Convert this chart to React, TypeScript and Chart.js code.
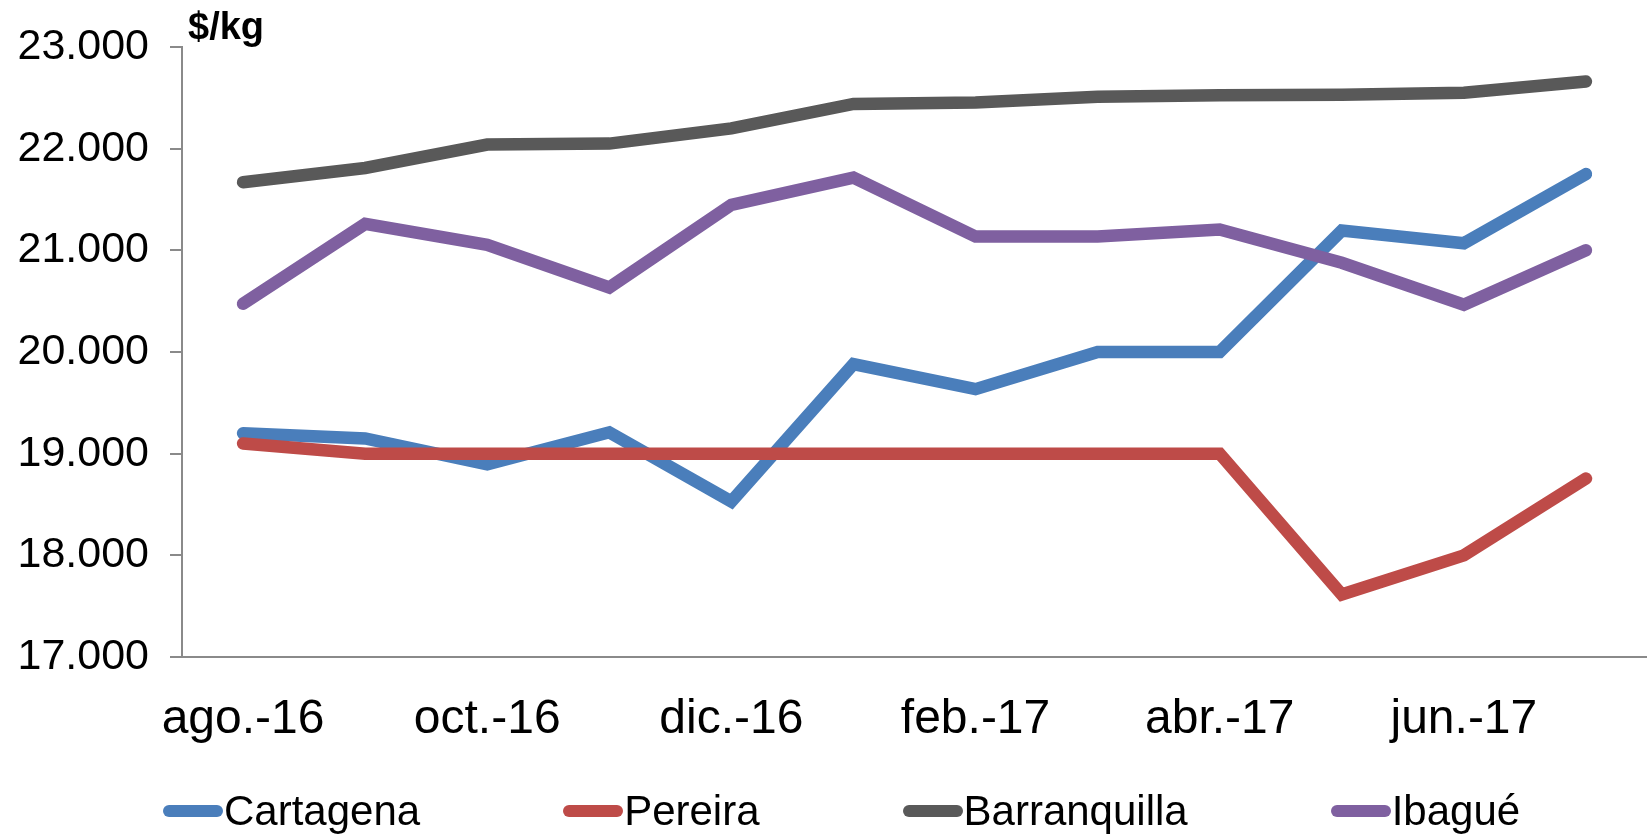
import React, { useEffect, useRef } from "react";
import { Chart, registerables } from "chart.js";

Chart.register(...registerables);

const categories = [
  "ago.-16", "sep.-16", "oct.-16", "nov.-16", "dic.-16", "ene.-17",
  "feb.-17", "mar.-17", "abr.-17", "may.-17", "jun.-17", "jul.-17",
];
const cartagena = [19200, 19150, 18895, 19210, 18530, 19880, 19635, 20000, 20000, 21195, 21070, 21750];
const pereira = [19100, 19000, 19000, 19000, 19000, 19000, 19000, 19000, 19000, 17615, 18000, 18755];
const barranquilla = [21670, 21810, 22040, 22050, 22200, 22440, 22455, 22510, 22525, 22530, 22550, 22660];
const ibague = [20475, 21260, 21055, 20635, 21448, 21715, 21135, 21135, 21205, 20878, 20465, 21000];

const seriesNames = ["Cartagena", "Pereira", "Barranquilla", "Ibagué"];
const seriesColors = ["#4A7EBB", "#BE4B48", "#595959", "#7F60A0"];
const yMin = 17000;
const yMax = 23000;
const yStep = 1000;
const unitLabel = "$/kg";

const FONT = '"Liberation Sans", Arial, sans-serif';

function fmt(v: number): string {
  const s = Math.round(v).toString();
  return s.replace(/\B(?=(\d{3})+(?!\d))/g, ".");
}

export default function App() {
  const ref = useRef<HTMLCanvasElement | null>(null);

  useEffect(() => {
    const canvas = ref.current;
    if (!canvas) return;
    const values = [cartagena, pereira, barranquilla, ibague];
    const unitPlugin = {
      id: "unitLabel",
      afterDraw(chart: any) {
        const ctx = chart.ctx;
        ctx.save();
        ctx.font = `bold 38px ${FONT}`;
        ctx.fillStyle = "#000";
        ctx.textBaseline = "alphabetic";
        ctx.textAlign = "left";
        ctx.fillText(unitLabel, chart.chartArea.left + 6, 39);
        ctx.restore();
      },
    };
    const chart = new Chart(canvas, {
      type: "line",
      data: {
        labels: categories,
        datasets: values.map((d, i) => ({
          label: seriesNames[i],
          data: d,
          borderColor: seriesColors[i],
          backgroundColor: seriesColors[i],
          borderWidth: 12.5,
          borderCapStyle: "round",
          borderJoinStyle: "miter",
          pointRadius: 0,
          tension: 0,
          fill: false,
          order: 4 - i,
        })),
      },
      options: {
        responsive: false,
        animation: false,
        devicePixelRatio: 1,
        layout: { padding: { top: 47, right: 0, bottom: 0, left: 0 } },
        plugins: { legend: { display: false }, tooltip: { enabled: false } },
        scales: {
          x: {
            type: "category",
            offset: true,
            grid: { display: false },
            border: { display: true, color: "#8A8A8A", width: 2 },
            ticks: {
              autoSkip: false,
              maxRotation: 0,
              minRotation: 0,
              padding: 26,
              color: "#000",
              font: { family: FONT, size: 48 },
              callback: (_v: any, i: number) => (i % 2 === 0 ? categories[i] : ""),
            },
            afterFit: (s: any) => {
              s.height = 178;
            },
          },
          y: {
            min: yMin,
            max: yMax,
            grid: {
              drawOnChartArea: false,
              drawTicks: true,
              tickLength: 12,
              color: "#8A8A8A",
              lineWidth: 2,
            },
            border: { display: true, color: "#8A8A8A", width: 2 },
            ticks: {
              stepSize: yStep,
              padding: 21,
              color: "#000",
              font: { family: FONT, size: 43 },
              callback: (v: any) => fmt(Number(v)),
            },
            afterFit: (s: any) => {
              s.width = 182;
            },
          },
        },
      },
      plugins: [unitPlugin],
    } as any);
    return () => chart.destroy();
  }, []);

  return (
    <div style={{ position: "fixed", left: 0, top: 0, width: 1647, height: 835, background: "#fff", overflow: "hidden" }}>
      <canvas ref={ref} width={1647} height={835} style={{ width: 1647, height: 835, display: "block" }} />
      <div
        style={{
          position: "absolute",
          left: 163,
          top: 787,
          display: "flex",
          gap: 143,
          fontFamily: FONT,
          fontSize: 42,
          lineHeight: "48px",
          color: "#000",
          whiteSpace: "nowrap",
        }}
      >
        {seriesNames.map((n, i) => (
          <div key={n} style={{ display: "flex", alignItems: "center" }}>
            <span style={{ display: "inline-block", width: 60, height: 12, borderRadius: 6, background: seriesColors[i] }} />
            <span style={{ marginLeft: 1 }}>{n}</span>
          </div>
        ))}
      </div>
    </div>
  );
}
